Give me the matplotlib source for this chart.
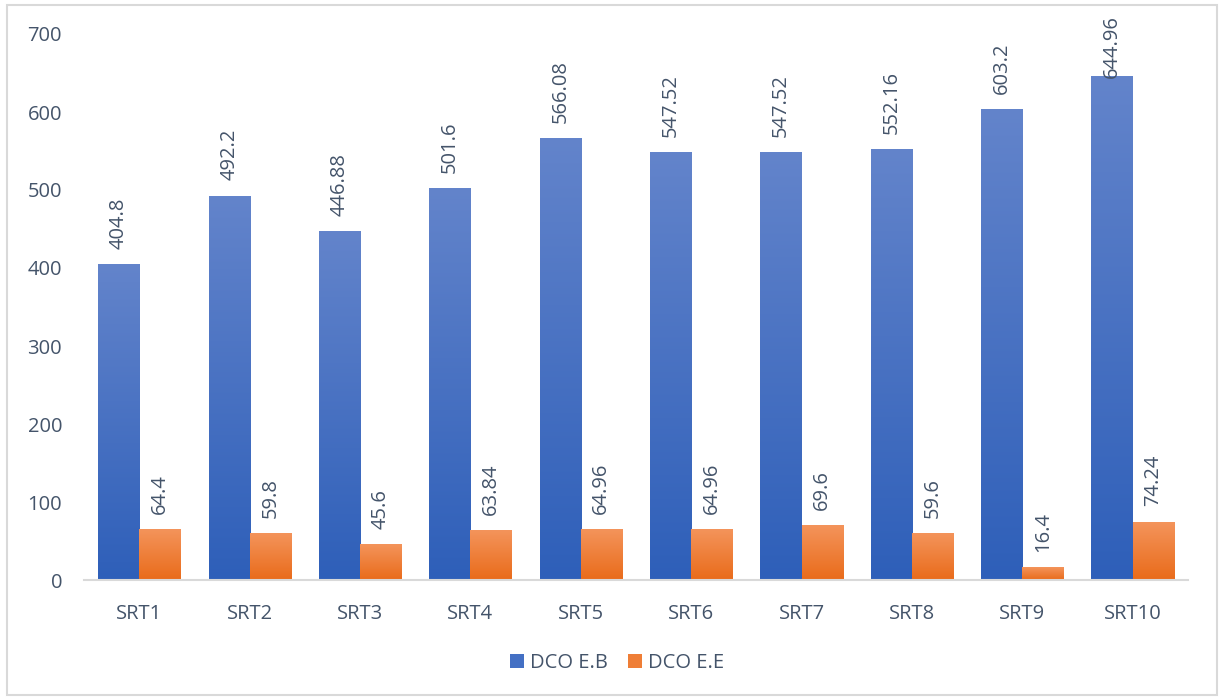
import numpy as np
import matplotlib.pyplot as plt
from matplotlib.colors import LinearSegmentedColormap
from matplotlib.patches import Rectangle, Patch

categories = ['SRT1', 'SRT2', 'SRT3', 'SRT4', 'SRT5',
              'SRT6', 'SRT7', 'SRT8', 'SRT9', 'SRT10']
dco_eb = [404.8, 492.2, 446.88, 501.6, 566.08, 547.52, 547.52, 552.16, 603.2, 644.96]
dco_ee = [64.4, 59.8, 45.6, 63.84, 64.96, 64.96, 69.6, 59.6, 16.4, 74.24]
series_names = ['DCO E.B', 'DCO E.E']

text_color = '#44546A'
plt.rcParams['font.family'] = ['Open Sans', 'DejaVu Sans']
fs = 14.5

# dark at the bottom, light at the top of every bar
blue_cmap = LinearSegmentedColormap.from_list('blue', ['#2E5FB9', '#6384CB'])
orange_cmap = LinearSegmentedColormap.from_list('orange', ['#E96B1A', '#F4945B'])

fig = plt.figure(figsize=(12.24, 7), dpi=100)
ax = fig.add_axes([84.3 / 1224, 120 / 700, 1103.4 / 1224, 546 / 700])

x = np.arange(len(categories))
w = 0.372
bars_eb = ax.bar(x - w / 2, dco_eb, w, color='none', zorder=2)
bars_ee = ax.bar(x + w / 2, dco_ee, w, color='none', zorder=2)

grad = np.linspace(0, 1, 256).reshape(-1, 1)
for bars, cmap in [(bars_eb, blue_cmap), (bars_ee, orange_cmap)]:
    for p in bars:
        x0, y0 = p.get_x(), p.get_y()
        ax.imshow(grad, extent=[x0, x0 + p.get_width(), y0, y0 + p.get_height()],
                  origin='lower', cmap=cmap, aspect='auto', zorder=2,
                  interpolation='bilinear')

ax.set_xlim(-0.5, len(categories) - 0.5)
ax.set_ylim(0, 700)
ax.set_yticks(np.arange(0, 701, 100))
ax.set_xticks(x)
ax.set_xticklabels(categories)
ax.tick_params(axis='both', length=0, labelsize=fs, labelcolor=text_color)
ax.tick_params(axis='y', pad=16)
ax.tick_params(axis='x', pad=17)
for s in ['left', 'right', 'top']:
    ax.spines[s].set_visible(False)
ax.spines['bottom'].set_color('#D9D9D9')
ax.spines['bottom'].set_linewidth(1.5)
ax.spines['bottom'].set_zorder(3)

# value labels, rotated, above each bar
labels = []
for bars, vals in [(bars_eb, dco_eb), (bars_ee, dco_ee)]:
    for p, v in zip(bars, vals):
        t = ax.text(p.get_x() + p.get_width() / 2, v + 20, f'{v:g}', rotation=90,
                    ha='center', va='bottom', fontsize=fs, color=text_color,
                    clip_on=False, zorder=4)
        labels.append(t)

# labels that would run past the top are pushed down
fig.canvas.draw()
top_limit = 724
inv = ax.transData.inverted()
for t in labels:
    bb = t.get_window_extent()
    if inv.transform((0, bb.y1))[1] > top_limit:
        t.set_y(top_limit)
        t.set_va('top')

handles = [Patch(facecolor='#4470C4'), Patch(facecolor='#EF7E36')]
fig.legend(handles, series_names, loc='center', ncol=2, frameon=False,
           bbox_to_anchor=(617 / 1224, 1 - 663 / 700), fontsize=fs,
           labelcolor=text_color, handlelength=0.7, handleheight=0.7,
           handletextpad=0.3, columnspacing=1.0)

fig.patches.append(Rectangle((7 / 1224, 5 / 700), 1210 / 1224, 690 / 700,
                             transform=fig.transFigure, fill=False,
                             edgecolor='#D9D9D9', linewidth=1.5))

fig.savefig('out.png', dpi=100)
